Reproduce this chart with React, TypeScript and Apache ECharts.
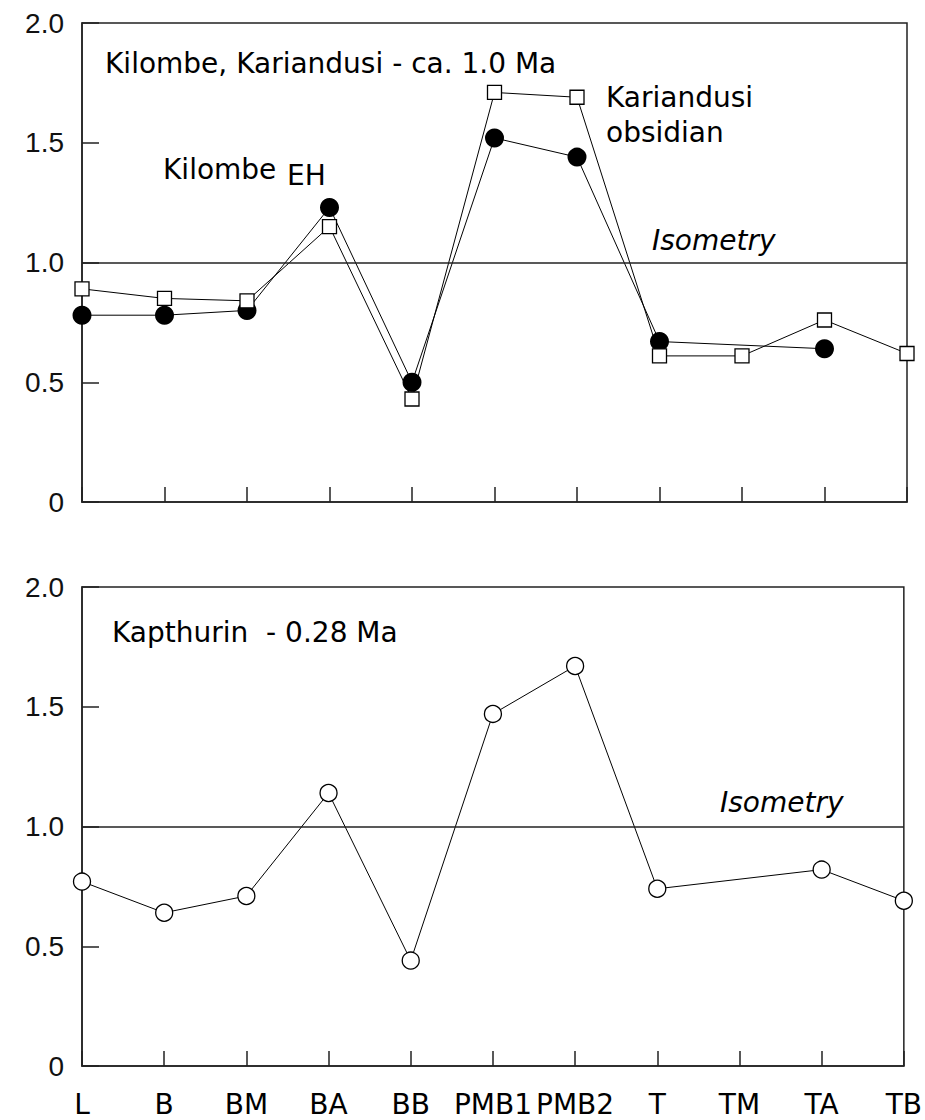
import React, { useEffect, useRef } from 'react';
import * as echarts from 'echarts';

const categories = ['L', 'B', 'BM', 'BA', 'BB', 'PMB1', 'PMB2', 'T', 'TM', 'TA', 'TB'];
const kilombeEH: (number | null)[] = [0.78, 0.78, 0.8, 1.23, 0.5, 1.52, 1.44, 0.67, null, 0.64, null];
const kariandusiObsidian: (number | null)[] = [0.89, 0.85, 0.84, 1.15, 0.43, 1.71, 1.69, 0.61, 0.61, 0.76, 0.62];
const kapthurin: (number | null)[] = [0.77, 0.64, 0.71, 1.14, 0.44, 1.47, 1.67, 0.74, null, 0.82, 0.69];
const isometryValue = 1.0;
const yMin = 0;
const yMax = 2;
const yStep = 0.5;

export default function App() {
  const ref = useRef<HTMLDivElement>(null);
  useEffect(() => {
    if (!ref.current) return;
    const chart = echarts.init(ref.current, undefined, { renderer: 'svg' });
    const axisLineStyle = { color: '#222', width: 1.5 };
    const xAxisBase = (gridIndex: number, showLabel: boolean) => ({
      type: 'category',
      gridIndex,
      data: categories,
      boundaryGap: false,
      axisLine: { show: true, lineStyle: axisLineStyle },
      axisTick: { show: true, inside: true, length: 15, interval: 0, lineStyle: axisLineStyle },
      axisLabel: {
        show: showLabel,
        interval: 0,
        margin: 24,
        fontFamily: 'DejaVu Sans',
        fontSize: 28,
        color: '#000',
      },
      splitLine: { show: false },
    });
    const yAxisBase = (gridIndex: number) => ({
      type: 'value',
      gridIndex,
      min: yMin,
      max: yMax,
      interval: yStep,
      axisLine: { show: true, lineStyle: axisLineStyle },
      axisTick: { show: true, inside: true, length: 17, lineStyle: axisLineStyle },
      axisLabel: {
        margin: 18,
        fontFamily: 'Liberation Sans',
        fontSize: 28,
        color: '#111',
        formatter: (v: number) => (v === 0 ? '0' : v.toFixed(1)),
      },
      splitLine: { show: false },
    });
    const isoLine = {
      silent: true,
      symbol: 'none',
      label: { show: false },
      lineStyle: { color: '#222', width: 1.5, type: 'solid' },
      data: [{ yAxis: isometryValue }],
    };
    const txt = (text: string, x: number, y: number, italic = false) => ({
      type: 'text',
      x,
      y,
      z: 100,
      style: {
        text,
        fill: '#000',
        fontFamily: 'DejaVu Sans',
        fontSize: 28,
        fontStyle: italic ? 'italic' : 'normal',
        textAlign: 'left',
        textVerticalAlign: 'middle',
      },
    });
    chart.setOption({
      animation: false,
      backgroundColor: '#fff',
      grid: [
        { left: 82, top: 23, width: 825, height: 479, show: true, borderColor: '#222', borderWidth: 1.5, backgroundColor: 'transparent' },
        { left: 82, top: 587, width: 825, height: 479, show: true, borderColor: '#222', borderWidth: 1.5, backgroundColor: 'transparent' },
      ],
      xAxis: [xAxisBase(0, false), xAxisBase(1, true)],
      yAxis: [yAxisBase(0), yAxisBase(1)],
      series: [
        {
          name: 'Kilombe EH',
          type: 'line',
          xAxisIndex: 0,
          yAxisIndex: 0,
          data: kilombeEH,
          connectNulls: true,
          symbol: 'circle',
          symbolSize: 19,
          itemStyle: { color: '#000' },
          lineStyle: { color: '#000', width: 1 },
          markLine: isoLine,
          z: 2,
        },
        {
          name: 'Kariandusi obsidian',
          type: 'line',
          xAxisIndex: 0,
          yAxisIndex: 0,
          data: kariandusiObsidian,
          connectNulls: true,
          symbol: 'rect',
          symbolSize: 14,
          showAllSymbol: true,
          itemStyle: { color: '#fff', borderColor: '#000', borderWidth: 1.3 },
          lineStyle: { color: '#000', width: 1 },
          z: 3,
        },
        {
          name: 'Kapthurin',
          type: 'line',
          xAxisIndex: 1,
          yAxisIndex: 1,
          data: kapthurin,
          connectNulls: true,
          symbol: 'circle',
          symbolSize: 17,
          showAllSymbol: true,
          itemStyle: { color: '#fff', borderColor: '#000', borderWidth: 1.3 },
          lineStyle: { color: '#000', width: 1 },
          markLine: isoLine,
          z: 2,
        },
      ],
      graphic: [
        txt('Kilombe, Kariandusi - ca. 1.0 Ma', 105, 63),
        txt('Kilombe', 163, 169),
        txt('EH', 287, 175),
        txt('Kariandusi', 606, 97),
        txt('obsidian', 606, 132),
        txt('Isometry', 652, 240, true),
        txt('Kapthurin  - 0.28 Ma', 112, 632),
        txt('Isometry', 720, 802, true),
      ],
    });
    return () => chart.dispose();
  }, []);
  return (
    <div
      ref={ref}
      style={{ position: 'absolute', left: 0, top: 0, width: 925, height: 1120, background: '#fff' }}
    />
  );
}
